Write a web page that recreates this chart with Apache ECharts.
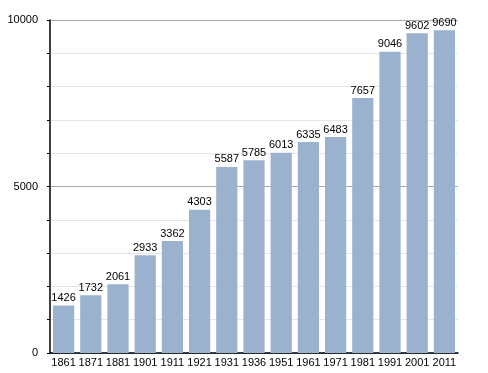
<!DOCTYPE html>
<html><head><meta charset="utf-8">
<script src="https://cdn.jsdelivr.net/npm/echarts@6/dist/echarts.min.js"></script>
<style>html,body{margin:0;padding:0;background:#fff}#c{width:488px;height:373px}</style>
</head><body><div id="c"></div>
<script>
var years = ['1861','1871','1881','1901','1911','1921','1931','1936','1951','1961','1971','1981','1991','2001','2011'];
var population = [1426,1732,2061,2933,3362,4303,5587,5785,6013,6335,6483,7657,9046,9602,9690];
var yTickLabels = [0, 5000, 10000];

var chart = echarts.init(document.getElementById('c'), null, {renderer:'canvas'});
chart.setOption({
  animation:false,
  grid:{left:50,right:30,top:20,bottom:20},
  xAxis:{
    type:'category', data:years,
    axisLine:{show:true,lineStyle:{color:'#000',width:1.5}},
    axisTick:{show:false},
    axisLabel:{color:'#000',fontFamily:'Liberation Sans',fontSize:11,margin:4,interval:0}
  },
  yAxis:{
    type:'value', min:0, max:10000, interval:1000,
    axisLine:{show:true,lineStyle:{color:'#000',width:1.5}},
    axisTick:{show:true,length:3,lineStyle:{color:'#000'}},
    axisLabel:{color:'#000',fontFamily:'Liberation Sans',fontSize:11,margin:12,
      formatter:function(v){return yTickLabels.indexOf(v)>=0?String(v):'';}},
    splitLine:{show:true,lineStyle:{color:['#aaaaaa','#e6e6e6','#e6e6e6','#e6e6e6','#e6e6e6'],width:1}}
  },
  series:[{
    type:'bar', data:population, barCategoryGap:'22%',
    itemStyle:{color:'#9ab2cd'},
    label:{show:true,position:'top',color:'#000',fontFamily:'Liberation Sans',fontSize:11,distance:2}
  }]
});
</script></body></html>
